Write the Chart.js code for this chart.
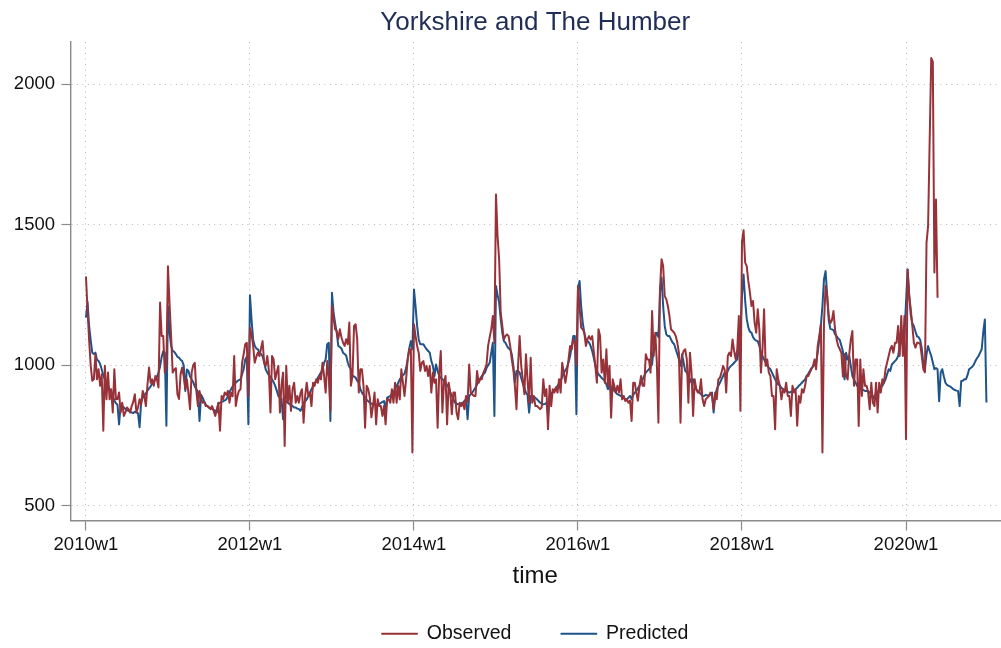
<!DOCTYPE html>
<html>
<head>
<meta charset="utf-8">
<title>Yorkshire and The Humber</title>
<script src="https://cdn.jsdelivr.net/npm/chart.js@4/dist/chart.umd.min.js"></script>
<style>
  html, body { margin: 0; background: #fff; }
  #wrap { width: 1001px; height: 648px; }
</style>
</head>
<body>
<div id="wrap"><canvas id="chart" width="1001" height="648"></canvas></div>
<script>
// weekly index 0 = 2010w1, 52 weeks per year
const tickWeeks = [0, 104, 208, 312, 416, 520];
const tickLabels = ["2010w1", "2012w1", "2014w1", "2016w1", "2018w1", "2020w1"];
const yTicks = [500, 1000, 1500, 2000];

const observed = [
  // 2010
  1316,1200,1090,1000,945,950,1039,950,986,927, 968,767,998,879,974,879,915,832,986,879, 880,903,832,867,820,832,850,844,832,855, 870,897,832,850,879,860,909,891,855,930, 992,938,950,927,962,950,921,1223,1104,1104, 974,1000,
  // 2011
  1352,1220,1104,974,985,990,897,880,968,992, 960,915,950,900,844,974,1000,1009,909,855, 909,880,867,870,855,855,850,844,855,838, 820,845,867,767,891,880,903,895,909,867, 903,890,1033,855,890,909,915,1009,1040,1075, 1080,890,
  // 2012
  1134,1110,1070,1009,1030,1045,1033,1060,1086,1009, 998,1033,980,832,1033,1021,950,975,998,832, 930,974,713,998,867,927,838,915,938,867, 891,867,900,915,796,891,938,891,903,855, 938,927,950,938,962,950,1009,962,903,1015, 960,838,
  // 2013
  1211,1169,1128,1122,1093,1128,1100,1081,1069,1093, 1075,1152,927,962,1140,1146,1093,903,986,986, 927,778,927,915,885,815,855,903,790,879, 855,855,820,855,790,879,879,867,915,867, 938,867,927,879,986,938,891,950,1021,1057, 1057,690,
  // 2014
  1146,1104,1069,1045,980,1009,1015,980,998,962, 998,903,974,938,950,778,974,1051,832,938, 962,790,938,903,826,903,903,832,808,867, 855,867,844,891,870,1003,903,897,891,891, 980,938,950,950,974,986,1003,1069,1100,1128, 1175,1080,
  // 2015
  1608,1460,1377,1187,1140,1092,1104,1110,1104,1069, 1021,986,927,844,998,1104,998,950,897,1039, 950,867,1027,867,891,855,855,850,844,850, 950,891,915,773,927,855,915,903,921,903, 950,903,1009,974,938,974,1021,1069,1057,1092, 1080,1000,
  // 2016
  1282,1211,1134,1128,1116,1069,1092,1104,1092,1104, 1050,998,938,1128,1104,974,1021,938,1057,927, 998,814,950,927,903,927,903,950,879,891, 873,879,867,875,802,938,938,903,874,927, 962,927,927,1039,1021,1021,974,1193,1033,1116, 1010,796,
  // 2017
  1270,1377,1353,1246,1235,1211,1175,1128,1122,1116, 1104,1080,1045,796,1033,1051,1057,1021,867,1045, 974,820,950,915,903,903,950,879,855,879, 885,891,903,891,844,903,879,950,956,974, 998,985,903,1033,1045,1033,1092,1051,1021,1057, 1175,838,
  // 2018
  1440,1480,1365,1353,1300,1260,1211,1229,1152,1116, 1199,1128,974,1057,1199,998,1021,974,962,891, 891,773,986,950,927,879,915,903,938,891, 891,820,927,903,915,785,891,867,915,903, 927,962,962,974,986,998,1021,986,1069,1104, 1146,690,
  // 2019
  1150,1282,1246,1175,1150,1160,1193,1128,1092,1069, 1057,1045,960,1040,960,950,1040,1092,1122,927, 1021,1021,784,1021,891,986,927,927,903,844, 938,867,855,938,832,938,903,950,938,986, 1009,1033,1057,1069,1045,1080,1080,1140,1033,1175, 1033,1175,
  // 2020 (observed stops at week 21)
  737,1341,1250,1200,1140,1080,1063,1080,1080,1075, 1033,986,975,1436,1495,1800,2093,2080,1330,1590, 1240
];

const predicted = [
  // 2010
  1170,1225,1140,1090,1045,1040,1045,1020,1015,1005, 985,965,950,935,925,915,905,890,875,865, 860,790,860,855,850,845,840,838,835,832, 830,835,832,830,780,870,885,892,900,910, 918,925,935,942,950,958,975,995,1030,1050, 1045,785,
  // 2011
  1210,1116,1070,1051,1048,1040,1030,1027,1020,1015, 1000,909,985,980,960,950,940,925,915,905, 802,895,885,870,860,855,850,848,845,842, 838,832,865,867,870,872,875,879,890,905, 915,925,932,938,944,947,950,968,986,1021, 1030,790,
  // 2012
  1249,1163,1092,1070,1060,1057,1045,1040,1033,1010, 985,974,965,958,950,940,927,910,891,885, 880,808,879,870,867,862,858,855,850,850, 846,844,838,850,867,872,879,890,903,915, 925,935,945,955,965,974,986,1009,1021,1075, 1080,802,
  // 2013
  1258,1187,1150,1116,1069,1065,1060,1045,1040,1035, 1010,995,986,962,960,956,945,938,915,903, 895,885,878,872,867,864,861,861,861,861, 862,866,870,873,844,885,888,891,897,903, 915,927,938,950,958,965,970,990,1021,1060, 1086,1057,
  // 2014
  1270,1210,1140,1092,1075,1075,1075,1065,1057,1051, 1045,1015,998,962,1003,980,962,955,950,945, 938,930,921,905,891,880,867,864,861,862, 865,867,873,879,808,891,897,903,912,921, 932,944,953,962,968,974,990,1000,1009,1045, 1080,820,
  // 2015
  1282,1250,1223,1164,1116,1086,1080,1069,1060,1057, 1040,1000,938,980,980,974,955,935,920,903, 895,832,891,891,888,884,879,873,867,864, 861,863,866,820,891,900,905,912,920,927, 935,944,960,974,982,992,1010,1033,1065,1104, 1104,826,
  // 2016
  1270,1300,1211,1152,1116,1092,1086,1081,1069,1051, 1027,998,980,968,962,955,950,944,932,915, 938,903,927,909,903,897,895,891,888,884, 879,879,885,891,880,895,903,909,918,927, 938,950,962,974,980,986,995,1003,1069,1104, 1116,1100,
  // 2017
  1260,1312,1211,1140,1110,1104,1104,1092,1081,1075, 1057,1040,1021,998,1039,1009,980,974,962,950, 938,950,927,915,909,903,897,891,891,895, 893,893,897,903,832,891,915,927,938,950, 962,974,968,980,992,998,1003,1009,1015,1021, 1057,1120,
  // 2018
  1250,1323,1230,1165,1135,1120,1116,1100,1092,1088, 1086,1069,1045,1033,1021,1009,998,992,986,974, 962,950,940,932,927,920,915,912,909,906, 903,905,909,912,915,920,927,932,938,944, 950,962,970,980,990,995,1003,1009,1045,1092, 1140,1211,
  // 2019
  1306,1335,1250,1160,1130,1128,1125,1110,1104,1095, 1090,1070,1050,950,1045,1021,1033,998,962,950, 938,927,921,927,915,912,909,909,909,903, 897,891,879,903,903,915,921,927,938,950, 968,986,980,1003,1009,1015,1021,1033,1069,1086, 1092,1104,
  // 2020
  1223,1341,1250,1180,1150,1139,1120,1103,1100,1090, 1060,1003,986,1040,1069,1050,1033,1010,986,990, 986,872,975,986,960,938,930,927,925,920, 915,912,910,909,855,944,945,950,950,965, 986,990,995,1003,1015,1025,1033,1045,1057,1120, 1163,868
];

const RED = "#983239";
const BLUE = "#1e5489";
const AXIS = "#8a8a8a";
const GRID = "#b9b9b9";
const TEXT = "#111";

Chart.defaults.font.family = "'Liberation Sans', Arial, sans-serif";

const toPoints = (values) => values.map((y, x) => ({ x, y }));

const lineDataset = (label, values, color) => ({
  label,
  data: toPoints(values),
  borderColor: color,
  backgroundColor: color,
  borderWidth: 2,
  borderJoinStyle: "round",
  pointRadius: 0,
  tension: 0,
});

new Chart(document.getElementById("chart"), {
  type: "line",
  data: {
    datasets: [
      lineDataset("Observed", observed, RED),
      lineDataset("Predicted", predicted, BLUE),
    ],
  },
  options: {
    responsive: false,
    animation: false,
    layout: { padding: { left: 0, right: 1, top: 0, bottom: -5.5 } },
    plugins: {
      title: {
        display: true,
        fullSize: false,
        text: "Yorkshire and The Humber",
        color: "#1f2d57",
        font: { size: 26, weight: "normal" },
        padding: { top: 7.4, bottom: 3.4 },
      },
      legend: {
        position: "bottom",
        fullSize: false,
        labels: { boxWidth: 35, boxHeight: 0, color: TEXT, font: { size: 19.5 }, padding: 50 },
      },
      tooltip: { enabled: false },
    },
    scales: {
      x: {
        type: "linear",
        min: -9.8,
        max: 579.6,
        afterBuildTicks: (scale) => { scale.ticks = tickWeeks.map((value) => ({ value })); },
        afterFit: (scale) => { scale.height = 53.5; },
        ticks: {
          autoSkip: false,
          maxRotation: 0,
          color: TEXT,
          font: { size: 18.5 },
          padding: 3,
          callback: (value) => tickLabels[tickWeeks.indexOf(value)],
        },
        grid: { color: GRID, lineWidth: 1, tickLength: 10, tickColor: AXIS, tickWidth: 1.2 },
        border: { color: AXIS, width: 1.4, dash: [1, 4.5] },
        title: { display: true, text: "time", color: TEXT, font: { size: 24 }, padding: { top: 0, bottom: -17 } },
      },
      y: {
        min: 448,
        max: 2150,
        afterBuildTicks: (scale) => { scale.ticks = yTicks.map((value) => ({ value })); },
        afterFit: (scale) => { scale.width = 70.5; },
        ticks: { color: TEXT, font: { size: 18.5 }, padding: 6.5, callback: (value) => String(value) },
        grid: { color: GRID, lineWidth: 1, tickLength: 9, tickColor: AXIS, tickWidth: 1.2 },
        border: { color: AXIS, width: 1.4, dash: [1, 4.5] },
      },
    },
  },
});
</script>
</body>
</html>
